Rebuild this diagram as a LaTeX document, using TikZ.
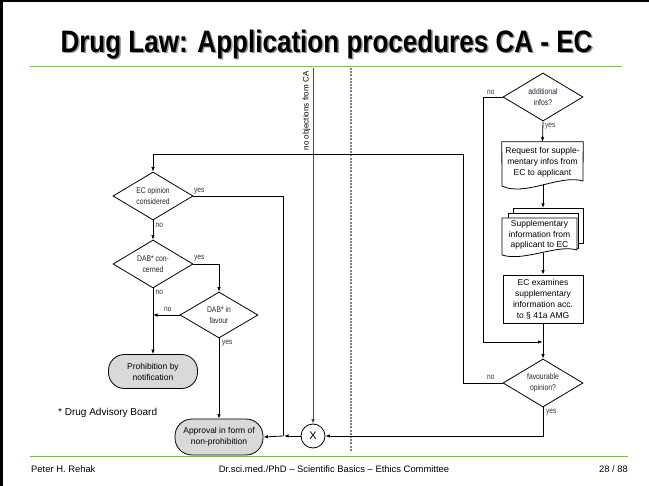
\documentclass[tikz,border=0pt]{standalone}
\usepackage{fontspec}
\setmainfont{Liberation Sans}
\newfontfamily\narrowfont[FakeStretch=0.82]{Liberation Sans}
\newfontfamily\titlefont[FakeStretch=0.84]{Liberation Sans Bold}
\usetikzlibrary{shapes.geometric,arrows.meta}
\definecolor{slidegreen}{RGB}{120,190,80}
\definecolor{termgray}{RGB}{217,217,217}
\definecolor{shadowgray}{RGB}{150,150,150}
\definecolor{dashgray}{RGB}{128,128,128}
\definecolor{calinegray}{RGB}{70,70,70}
\begin{document}
\begin{tikzpicture}[x=1pt,y=-1pt,
  line/.style={draw=black, line width=0.8pt},
  arr/.style={line, -{Latex[length=4.5pt,width=3.5pt]}},
  dia/.style={diamond, draw=black, line width=0.8pt, aspect=1.667, minimum width=80pt, minimum height=48pt, inner sep=0pt, align=center, text=black!85, font=\narrowfont\fontsize{8.3}{10.5}\selectfont},
  lbl/.style={inner sep=0pt, text=black!80, font=\narrowfont\fontsize{8}{9}\selectfont},
  proc/.style={rectangle, draw=black, line width=0.8pt, minimum width=80pt, minimum height=48pt, inner sep=1pt, align=center, font=\fontsize{8.5}{11}\selectfont},
  docbox/.style={rectangle, minimum width=81pt, minimum height=40pt, inner sep=1pt, align=center, font=\fontsize{8.5}{11}\selectfont},
  docline/.style={draw=black, line width=0.8pt, fill=white},
  term/.style={rectangle, rounded corners=16pt, draw=black, line width=0.8pt, fill=termgray, minimum width=89pt, minimum height=34pt, inner sep=1pt, align=center, font=\fontsize{8.5}{11}\selectfont},
  titletext/.style={anchor=base, inner sep=0pt, font=\titlefont\fontsize{31}{36}\selectfont},
  foot/.style={anchor=base, inner sep=0pt, font=\fontsize{9.4}{11}\selectfont},
  greenline/.style={draw=slidegreen, line width=1.3pt},
  dashline/.style={draw=dashgray, line width=1.6pt, dash pattern=on 2pt off 1.2pt}]
\useasboundingbox (0,0) rectangle (649,486);
\fill[white] (0,0) rectangle (649,486);
\draw[line width=2.5pt] (1.25,486) -- (1.25,1.25) -- (649,1.25);
% title
\node[titletext, text=shadowgray] (tshadow) at (328,54) {Drug Law: Application procedures CA - EC};
\node[titletext] (title) at (326.5,52.5) {Drug Law: Application procedures CA - EC};
\coordinate (g1) at (30,66.5); \coordinate (g2) at (622,66.5);
\draw[greenline] (g1) -- (g2);
\coordinate (g3) at (30,456.5); \coordinate (g4) at (628,456.5);
\draw[greenline] (g3) -- (g4);
% footer
\node[foot, anchor=base west] (f1) at (31,473) {Peter H. Rehak};
\node[foot] (f2) at (334,473) {Dr.sci.med./PhD -- Scientific Basics -- Ethics Committee};
\node[foot, anchor=base east] (f3) at (628,473) {28 / 88};
% dashed separator
\coordinate (d1) at (351,68); \coordinate (d2) at (351,452);
\draw[dashline] (d1) -- (d2);
% left chart
\node[dia] (ecop) at (153,196) {EC opinion\\considered};
\node[dia] (dabc) at (153,264) {DAB* con-\\cerned};
\node[dia, minimum width=78pt, minimum height=46pt] (dabf) at (219,315) {DAB* in\\favour};
\node[term] (prohib) at (153,371.5) {Prohibition by\\notification};
\node[term, minimum height=36pt, minimum width=88pt, rounded corners=17pt] (approv) at (219,437) {Approval in form of\\non-prohibition};
\node[circle, draw=black, line width=0.8pt, minimum size=24pt, inner sep=0pt, font=\fontsize{11}{12}\selectfont] (xnode) at (313,436) {X};
\node[anchor=base west, inner sep=0pt, font=\fontsize{10}{12}\selectfont] (legend) at (58,415.5) {* Drug Advisory Board};
% right chart
\node[dia] (addinf) at (543,97) {additional\\infos?};
\node[docbox] (request) at (542.5,162) {};
\node[proc] (ecexam) at (543,299) {EC examines\\supplementary\\information acc.\\to \S\ 41a AMG};
\node[dia] (favop) at (543,383) {favourable\\opinion?};
% document shape of request
\draw[docline] (request.north west) -- (request.north east) -- (583,181) .. controls (560,174) and (525,197) .. (502,186) -- cycle;
\node[docbox] (requesttext) at (542.5,162) {Request for supple-\\mentary infos from\\EC to applicant};
% multi document
\coordinate (mback) at (543,208);
\draw[docline] (513,208) rectangle (583,243);
\draw[docline] (508,213) rectangle (578,248);
\draw[docline] (502,218) -- (577,218) -- (577,250) .. controls (557,244) and (524,262) .. (502,255) -- cycle;
\node[docbox, minimum width=75pt, minimum height=30pt, font=\fontsize{8.5}{10.4}\selectfont] (suppl) at (539.5,235) {Supplementary\\information from\\applicant to EC};
\coordinate (rqb) at (543,184.5);
\coordinate (spb) at (543,253.5);
% no objections line
\coordinate (ca) at (313,68);
\node[rotate=90, inner sep=0pt, font=\fontsize{8}{9}\selectfont] (catext) at (306.5,111) {no objections from CA};
\draw[draw=calinegray, line width=0.9pt, -{Latex[length=4.5pt,width=3.5pt]}] (ca) -- (xnode.north);
% connectors
\coordinate (c1) at (463,154);
\draw[arr] (favop.west) -| (c1) -| (ecop.north);
\draw[arr] (ecop.south) -- (dabc.north);
\coordinate (j1) at (283,436);
\draw[line] (ecop.east) -| (j1);
\draw[arr] (dabc.east) -| (dabf.north);
\draw[arr] (dabc.south) -- (prohib.north);
\draw[arr] (dabf.west) -- (dabf.west -| dabc.south);
\draw[arr] (dabf.south) -- (approv.north);
\draw[arr] (xnode.west) -- ([xshift=1pt]j1);
\draw[arr] (j1) -- (approv.east);
\draw[arr] (favop.south) |- (xnode.east);
\coordinate (c2) at (483,342);
\coordinate (c3) at (542.6,342);
\draw[arr] (addinf.west) -| (c2) -- (c3);
\draw[arr] (addinf.south) -- (request.north);
\draw[arr] (rqb) -- (mback);
\draw[arr] (spb) -- (ecexam.north);
\draw[arr] (ecexam.south) -- (favop.north);
% labels
\node[lbl, anchor=west] (l1) at (194,191) {yes};
\node[lbl, anchor=west] (l2) at (155.5,225) {no};
\node[lbl, anchor=west] (l3) at (194,258) {yes};
\node[lbl, anchor=west] (l4) at (155.5,292) {no};
\node[lbl, anchor=west] (l5) at (164,309) {no};
\node[lbl, anchor=west] (l6) at (222,343) {yes};
\node[lbl, anchor=west] (l7) at (487,92) {no};
\node[lbl, anchor=west] (l8) at (545,126) {yes};
\node[lbl, anchor=west] (l9) at (487,377) {no};
\node[lbl, anchor=west] (l10) at (546,412) {yes};
\end{tikzpicture}
\end{document}
